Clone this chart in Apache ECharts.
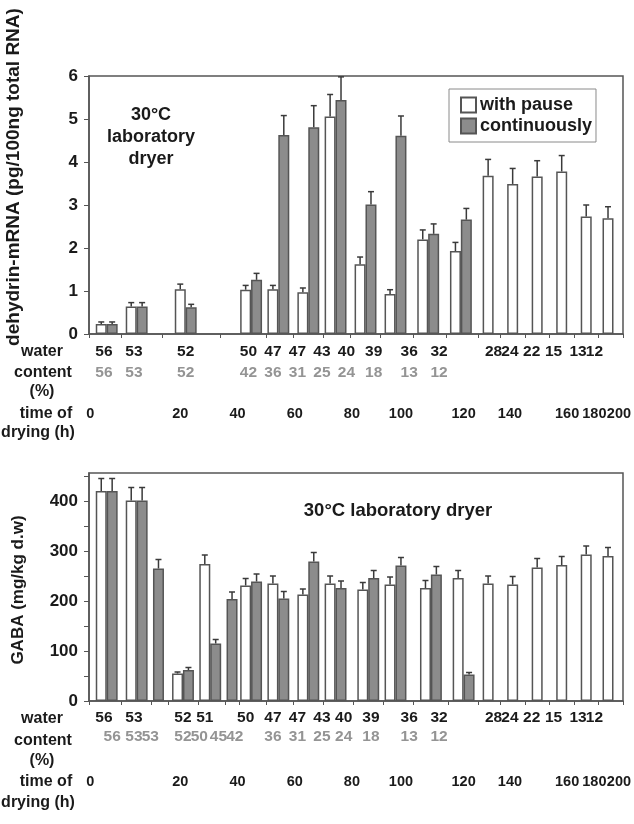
<!DOCTYPE html>
<html><head><meta charset="utf-8">
<script src="https://cdn.jsdelivr.net/npm/echarts@6/dist/echarts.min.js"></script>
<style>html,body{margin:0;padding:0;background:#fff}#c{width:634px;height:824px}</style>
</head><body><div id="c"></div>
<script>
// ---------------- data ----------------
const timeLabels = ['0','20','40','60','80','100','120','140','160','180','200'];

// Top panel: dehydrin-mRNA (pg/100ng total RNA)
const dehWaterPause = [56,53,52,50,47,47,43,40,39,36,32,28,24,22,15,13,12];
const dehWaterCont  = [56,53,52,42,36,31,25,24,18,13,12];
const dehPause    = [0.23,0.64,1.04,1.03,1.04,0.97,5.06,1.62,0.93,2.20,1.93,3.68,3.49,3.66,3.78,2.73,2.69];
const dehPauseErr = [0.05,0.09,0.12,0.10,0.09,0.10,0.51,0.17,0.10,0.22,0.20,0.38,0.36,0.37,0.37,0.27,0.27];
const dehCont     = [0.23,0.64,0.62,1.26,4.63,4.81,5.44,3.01,4.61,2.33,2.66];
const dehContErr  = [0.05,0.09,0.07,0.15,0.45,0.50,0.54,0.30,0.46,0.23,0.26];

// Bottom panel: GABA (mg/kg d.w)
const gabaWaterPause = [56,53,52,51,50,47,47,43,40,39,36,32,28,24,22,15,13,12];
const gabaWaterCont  = [56,53,53,52,50,45,42,36,31,25,24,18,13,12];
const gabaPause    = [420,401,55,274,231,235,213,235,223,233,226,246,235,233,267,272,293,290];
const gabaPauseErr = [25,26,3,18,14,15,11,15,14,15,15,15,15,16,18,17,17,17];
const gabaCont     = [420,401,265,62,115,204,239,205,279,226,246,271,253,53];
const gabaContErr  = [25,26,18,5,8,14,15,14,18,14,15,16,16,4];

// ---------------- layout (slot positions on a fine category grid) ----------------
const NSLOT = 196;
const dehPauseSlot  = [4,15,33,57,67,78,88,99,110,122,134,146,155,164,173,182,190];
const dehContSlot   = [8,19,37,61,71,82,92,103,114,126,138];
const gabaPauseSlot = [4,15,32,42,57,67,78,88,100,110,123,135,146,155,164,173,182,190];
const gabaContSlot  = [8,19,25,36,46,52,61,71,82,92,104,114,127,139];
const timeSlot      = [0,33,54,75,96,114,137,154,175,185,194];
const dehPauseLabSlot  = [5,16,35,58,67,76,85,94,104,117,128,148,154,162,170,179,185];
const dehContLabSlot   = [5,16,35,58,67,76,85,94,104,117,128];
const gabaPauseLabSlot = [5,16,34,42,57,67,76,85,93,103,117,128,148,154,162,170,179,185];
const gabaContLabSlot  = [8,16,22,34,40,47,53,67,76,85,93,103,117,128];

const FONT = "'Liberation Sans', Arial, sans-serif";
const TXT = '#1a1a1a';
const GRAYTXT = '#949494';
const EDGE = '#555';
const slotNames = Array.from({length: NSLOT}, (_, i) => String(i));

function fullData(slots, vals) {
  const d = new Array(NSLOT).fill('-');
  slots.forEach((s, i) => { d[s] = vals[i]; });
  return d;
}
function tickSet(slotsA, slotsB) {
  const all = slotsA.concat(slotsB).sort((a, b) => a - b);
  const groups = [];
  all.forEach(s => {
    const g = groups[groups.length - 1];
    if (g && s - g[g.length - 1] <= 4) g.push(s); else groups.push([s]);
  });
  const set = new Set([0]);
  for (let i = 1; i < groups.length; i++) {
    const prev = groups[i - 1][groups[i - 1].length - 1];
    const next = groups[i][0];
    set.add(Math.round((prev + next + 1) / 2));
  }
  return set;
}
function mainX(gridIndex, ticks) {
  return {
    type: 'category', gridIndex, data: slotNames, position: 'bottom',
    axisLine: {show: true, lineStyle: {color: EDGE, width: 1.5}},
    axisTick: {show: true, length: 4, interval: (i) => ticks.has(i), lineStyle: {color: EDGE, width: 1}},
    axisLabel: {show: false}, splitLine: {show: false}
  };
}
function labelX(gridIndex, slots, labels, margin, color, size) {
  const map = {};
  slots.forEach((s, i) => { map[s] = String(labels[i]); });
  return {
    type: 'category', gridIndex, data: slotNames, position: 'bottom',
    axisLine: {show: false}, axisTick: {show: false}, splitLine: {show: false},
    axisLabel: {interval: 0, margin, verticalAlign: 'middle', color, fontSize: size || 15.5, fontWeight: 'bold',
      fontFamily: FONT, formatter: (v, i) => map[i] || ''}
  };
}
function barSeries(name, xi, yi, slots, vals, fill) {
  return {
    type: 'bar', name, xAxisIndex: xi, yAxisIndex: yi, data: fullData(slots, vals),
    barWidth: 11, barGap: '-100%', silent: true,
    itemStyle: {color: fill, borderColor: EDGE, borderWidth: 1.5}
  };
}
function errSeries(xi, yi, slots, vals, errs) {
  return {
    type: 'custom', xAxisIndex: xi, yAxisIndex: yi, silent: true, z: 5,
    encode: {x: 0, y: 1},
    data: slots.map((s, i) => [s, vals[i], errs[i]]),
    renderItem(params, api) {
      const x = api.value(0), v = api.value(1), e = api.value(2);
      const p0 = api.coord([x, v]);
      const p1 = api.coord([x, v + e]);
      const st = {stroke: '#3a3a3a', lineWidth: 1.5};
      return {type: 'group', children: [
        {type: 'line', shape: {x1: p0[0], y1: p0[1], x2: p1[0], y2: p1[1]}, style: st},
        {type: 'line', shape: {x1: p1[0] - 3, y1: p1[1], x2: p1[0] + 3, y2: p1[1]}, style: st}
      ]};
    }
  };
}
function yAxis(gridIndex, max, interval, fmt) {
  return {
    type: 'value', gridIndex, min: 0, max, interval,
    axisLine: {show: true, lineStyle: {color: EDGE, width: 1.5}},
    axisTick: {show: true, length: 5, lineStyle: {color: EDGE}},
    splitLine: {show: false},
    axisLabel: {color: TXT, fontSize: 17, fontWeight: 'bold', fontFamily: FONT, margin: 11,
      showMaxLabel: fmt ? false : true, formatter: fmt || undefined}
  };
}
function txt(x, y, text, size, opts) {
  return Object.assign({
    type: 'text', x, y, silent: true,
    style: {text, font: 'bold ' + (size || 16) + 'px ' + FONT, fill: TXT, textAlign: 'center', textVerticalAlign: 'middle'}
  }, opts || {});
}

const topTicks = tickSet(dehPauseSlot, dehContSlot);
const botTicks = tickSet(gabaPauseSlot, gabaContSlot);

const chart = echarts.init(document.getElementById('c'), null, {renderer: 'canvas'});
chart.setOption({
  animation: false,
  backgroundColor: '#fff',
  grid: [
    {left: 89, width: 537, top: 76, height: 258, show: true, borderColor: EDGE, borderWidth: 1.5, backgroundColor: '#fff'},
    {left: 89, width: 537, top: 473, height: 228, show: true, borderColor: EDGE, borderWidth: 1.5, backgroundColor: '#fff'}
  ],
  xAxis: [
    mainX(0, topTicks),
    labelX(0, dehPauseLabSlot, dehWaterPause, 18, TXT),
    labelX(0, dehContLabSlot, dehWaterCont, 39, GRAYTXT),
    labelX(0, timeSlot, timeLabels, 80, TXT, 14.5),
    mainX(1, botTicks),
    labelX(1, gabaPauseLabSlot, gabaWaterPause, 17, TXT),
    labelX(1, gabaContLabSlot, gabaWaterCont, 36, GRAYTXT),
    labelX(1, timeSlot, timeLabels, 81, TXT, 14.5)
  ],
  yAxis: [
    yAxis(0, 6, 1),
    yAxis(1, 456, 50, (v) => (v % 100 === 0 ? String(v) : ''))
  ],
  legend: {
    data: ['with pause', 'continuously'], orient: 'vertical', left: 449, top: 89,
    selectedMode: false, icon: 'rect', itemWidth: 15, itemHeight: 15, itemGap: 3,
    padding: [7, 4, 7, 11], borderColor: '#8a8a8a', borderWidth: 1, backgroundColor: '#fff',
    textStyle: {fontSize: 18, fontWeight: 'bold', fontFamily: FONT, color: TXT, padding: [0, 0, 0, -1]}
  },
  series: [
    barSeries('with pause', 0, 0, dehPauseSlot, dehPause, '#ffffff'),
    barSeries('continuously', 0, 0, dehContSlot, dehCont, '#8c8c8c'),
    errSeries(0, 0, dehPauseSlot, dehPause, dehPauseErr),
    errSeries(0, 0, dehContSlot, dehCont, dehContErr),
    barSeries('with pause', 4, 1, gabaPauseSlot, gabaPause, '#ffffff'),
    barSeries('continuously', 4, 1, gabaContSlot, gabaCont, '#8c8c8c'),
    errSeries(4, 1, gabaPauseSlot, gabaPause, gabaPauseErr),
    errSeries(4, 1, gabaContSlot, gabaCont, gabaContErr)
  ],
  graphic: [
    txt(14, 177, 'dehydrin-mRNA (pg/100ng total RNA)', 19, {rotation: Math.PI / 2}),
    txt(18, 590, 'GABA (mg/kg d.w)', 17, {rotation: Math.PI / 2}),
    txt(151, 115, '30°C', 18),
    txt(151, 137, 'laboratory', 18),
    txt(151, 159, 'dryer', 18),
    txt(398, 511, '30°C laboratory dryer', 18.5),
    txt(42, 352, 'water'), txt(43, 373, 'content'), txt(42, 392, '(%)'),
    txt(46, 414, 'time of'), txt(38, 433, 'drying (h)'),
    txt(42, 719, 'water'), txt(43, 741, 'content'), txt(42, 761, '(%)'),
    txt(46, 782, 'time of'), txt(38, 803, 'drying (h)')
  ]
});
</script>
</body></html>
